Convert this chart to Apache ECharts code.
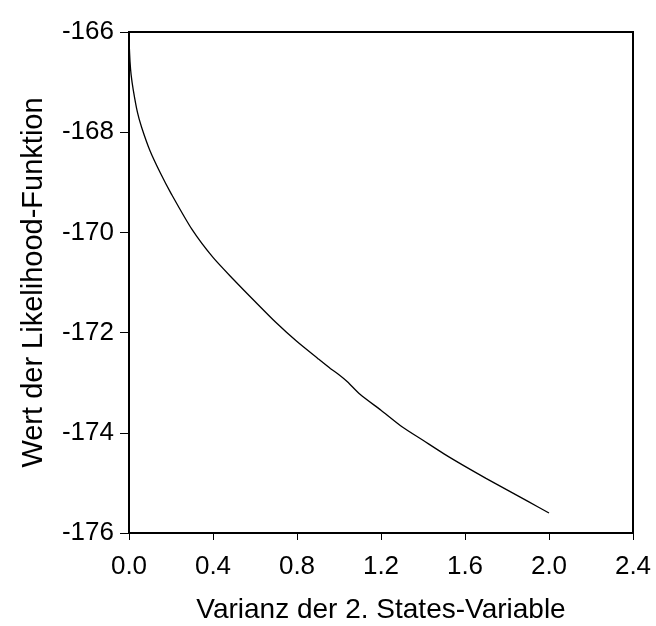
<!DOCTYPE html>
<html>
<head>
<meta charset="utf-8">
<script src="https://cdn.jsdelivr.net/npm/echarts@6/dist/echarts.min.js"></script>
<style>
html,body{margin:0;padding:0;background:#fff;}
#c{width:656px;height:626px;}
</style>
</head>
<body>
<div id="c"></div>
<script>
const varianz = [0.000, 0.005, 0.010, 0.020, 0.040, 0.060, 0.100, 0.150, 0.200, 0.300, 0.400, 0.500, 0.600, 0.700, 0.800, 0.900, 0.960, 1.000, 1.040, 1.100, 1.200, 1.300, 1.400, 1.500, 1.600, 1.700, 1.800, 1.900, 2.000];
const likelihood = [-166.15, -166.60, -166.85, -167.15, -167.60, -167.90, -168.37, -168.82, -169.22, -169.94, -170.50, -170.95, -171.38, -171.80, -172.18, -172.52, -172.72, -172.84, -172.98, -173.23, -173.55, -173.88, -174.15, -174.42, -174.67, -174.91, -175.14, -175.37, -175.60];
const xTicks = [0.0, 0.4, 0.8, 1.2, 1.6, 2.0, 2.4];
const yTicks = [-176, -174, -172, -170, -168, -166];
const xTitle = 'Varianz der 2. States-Variable';
const yTitle = 'Wert der Likelihood-Funktion';

const FONT = '"Liberation Sans", Arial, sans-serif';
const chart = echarts.init(document.getElementById('c'), null, {renderer: 'canvas'});
chart.setOption({
  animation: false,
  backgroundColor: '#ffffff',
  grid: {left: 129, right: 23, top: 32, bottom: 93, show: true, borderColor: '#000', borderWidth: 2,
    backgroundColor: 'transparent', containLabel: false, outerBoundsMode: 'none'},
  xAxis: {
    type: 'value', min: xTicks[0], max: xTicks[xTicks.length-1], interval: 0.4,
    name: xTitle, nameLocation: 'middle', nameGap: 63,
    nameTextStyle: {fontFamily: FONT, fontSize: 28, color: '#000'},
    axisLine: {show: true, onZero: false, lineStyle: {color: '#000', width: 2}},
    axisTick: {show: true, inside: false, length: 7, lineStyle: {color: '#000', width: 1}},
    axisLabel: {fontFamily: FONT, fontSize: 26, color: '#000', margin: 21,
      formatter: v => v.toFixed(1)},
    splitLine: {show: false}
  },
  yAxis: {
    type: 'value', min: yTicks[0], max: yTicks[yTicks.length-1], interval: 2,
    name: yTitle, nameLocation: 'middle', nameGap: 81,
    nameTextStyle: {fontFamily: FONT, fontSize: 29, color: '#000'},
    axisLine: {show: true, onZero: false, lineStyle: {color: '#000', width: 2}},
    axisTick: {show: true, inside: false, length: 9, lineStyle: {color: '#000', width: 1}},
    axisLabel: {fontFamily: FONT, fontSize: 26, color: '#000', margin: 15},
    splitLine: {show: false}
  },
  series: [{
    type: 'line',
    data: varianz.map((x, i) => [x, likelihood[i]]),
    showSymbol: false,
    smooth: 0.25,
    lineStyle: {color: '#000', width: 1.3},
    clip: true
  }]
});
</script>
</body>
</html>
